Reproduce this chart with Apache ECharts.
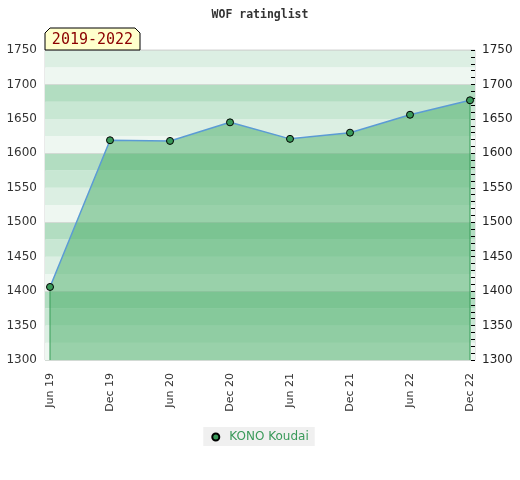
<!DOCTYPE html>
<html>
<head>
<meta charset="utf-8">
<script src="https://cdn.jsdelivr.net/npm/echarts@6/dist/echarts.min.js"></script>
<style>html,body{margin:0;padding:0;background:#fff}#c{width:520px;height:480px}</style>
</head>
<body>
<div id="c"></div>
<script>
var categories = ['Jun 19','Dec 19','Jun 20','Dec 20','Jun 21','Dec 21','Jun 22','Dec 22'];
var ratings = [1406, 1619, 1618, 1645, 1621, 1630, 1656, 1677];
var yTicks = [1300, 1350, 1400, 1450, 1500, 1550, 1600, 1650, 1700, 1750];
var playerName = 'KONO Koudai';
var periodLabel = '2019-2022';
var chartTitle = 'WOF ratinglist';

var pts = ratings.map(function (v, i) { return [i, v]; });
var last = ratings.length - 1;
var yMin = yTicks[0], yMax = yTicks[yTicks.length - 1];
var idx = categories.map(function (c, i) { return i; });
var plain = function (v) { return String(v); };

var chart = echarts.init(document.getElementById('c'));
chart.setOption({
  animation: false,
  title: {
    text: chartTitle, left: 'center', top: 4,
    textStyle: { fontFamily: 'DejaVu Sans Mono', fontWeight: 'bold', fontSize: 11.5, color: '#333' }
  },
  legend: {
    data: [playerName], left: 'center', top: 427,
    backgroundColor: '#f0f0f0', padding: [4, 6, 3, 8],
    icon: 'circle', itemWidth: 7, itemHeight: 7, itemGap: 8,
    textStyle: { color: '#3a9a5a', fontSize: 12, fontFamily: 'DejaVu Sans', padding: [0, 0, 0, 5] }
  },
  grid: { left: 45, right: 45, top: 50, bottom: 120, show: true, borderColor: '#d4d4d4', borderWidth: 1, backgroundColor: 'transparent' },
  xAxis: {
    type: 'value', min: -1 / 12, max: last + 1 / 12,
    axisLine: { show: false }, axisTick: { show: false }, splitLine: { show: false },
    axisLabel: {
      customValues: idx, rotate: 90, margin: 13, color: '#333', fontSize: 11, fontFamily: 'DejaVu Sans',
      formatter: function (v) { return categories[Math.round(v)]; }
    }
  },
  yAxis: [
    {
      type: 'value', min: yMin, max: yMax, interval: 50, position: 'left',
      axisLine: { show: false }, axisTick: { show: false }, splitLine: { show: false },
      axisLabel: { color: '#333', fontSize: 12, margin: 8, fontFamily: 'DejaVu Sans', formatter: plain }
    },
    {
      type: 'value', min: yMin, max: yMax, interval: 50, position: 'right',
      axisLine: { show: false }, splitLine: { show: false },
      axisTick: { show: true, inside: true, length: 4, lineStyle: { color: '#000' } },
      minorTick: { show: true, splitNumber: 5, length: 4, lineStyle: { color: '#000' } },
      axisLabel: { color: '#222', fontSize: 12, margin: 7, fontFamily: 'DejaVu Sans', formatter: plain }
    },
    {
      type: 'value', min: yMin, max: yMax, interval: 25, position: 'left',
      axisLine: { show: false }, axisTick: { show: false }, axisLabel: { show: false },
      splitLine: { show: false },
      splitArea: { show: true, areaStyle: { color: ['#eef7f1', '#dcefe3', '#c8e7d3', '#b2ddc1'] } }
    },
    {
      type: 'value', min: yMin, max: yMax, interval: 100, position: 'left',
      axisLine: { show: false }, axisTick: { show: false }, axisLabel: { show: false },
      splitLine: { show: true, lineStyle: { color: '#d2dad4', width: 1 } }
    }
  ],
  graphic: [
    {
      type: 'polygon', z: 100,
      shape: { points: [[45, 50], [45, 33], [50, 28], [135, 28], [140, 33], [140, 50]] },
      style: { fill: '#ffffcc', stroke: '#000', lineWidth: 1 }
    },
    {
      type: 'text', z: 101, x: 92.5, y: 40,
      style: { text: periodLabel, fill: '#8b0000', font: '15px "DejaVu Sans Mono"', align: 'center', verticalAlign: 'middle' }
    }
  ],
  series: [
    {
      type: 'line', name: 'edgeL', silent: true, symbol: 'none', z: 2,
      data: [[0, yMin], [0, ratings[0]]],
      lineStyle: { color: '#2f9150', width: 1 }
    },
    {
      type: 'line', name: 'edgeR', silent: true, symbol: 'none', z: 2,
      data: [[last, yMin], [last, ratings[last]]],
      lineStyle: { color: '#2f9150', width: 1 }
    },
    {
      type: 'line', name: playerName, data: pts, z: 3,
      symbol: 'circle', symbolSize: 7,
      itemStyle: { color: '#3a9a5a', borderColor: '#000', borderWidth: 1 },
      lineStyle: { color: '#5b9bd5', width: 1.5 },
      areaStyle: { color: 'rgb(68,171,99)', opacity: 0.5, origin: 'start' }
    }
  ]
});
</script>
</body>
</html>
